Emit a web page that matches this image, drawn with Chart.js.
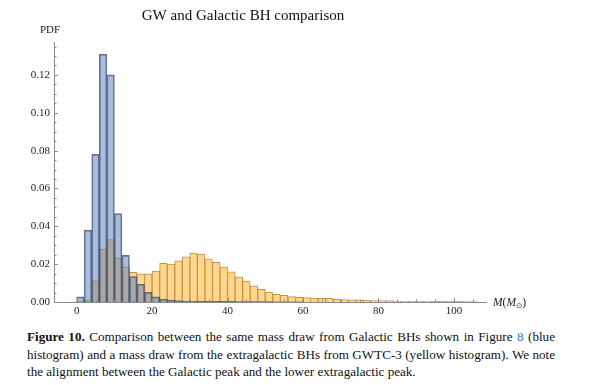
<!DOCTYPE html>
<html>
<head>
<meta charset="utf-8">
<script src="https://cdn.jsdelivr.net/npm/chart.js@4.4.1/dist/chart.umd.min.js"></script>
<style>
    body { margin: 0; background: #fff; }
    #wrap { position: relative; width: 591px; height: 325px; }
    #caption {
        position: absolute; left: 27px; top: 328px; width: 528px;
        font-family: "Liberation Serif", serif; font-size: 13.1px;
        line-height: 17.5px; color: #111; white-space: nowrap;
    }
    #caption .just { text-align: justify; text-align-last: justify; white-space: normal; }
    #caption .ref { color: #3a78c4; }
</style>
</head>
<body>
<div id="wrap"><canvas id="chart"></canvas></div>
<div id="caption">
    <div class="just"><b>Figure 10.</b> Comparison between the same mass draw from Galactic BHs shown in Figure <span class="ref">8</span> (blue</div>
    <div class="just">histogram) and a mass draw from the extragalactic BHs from GWTC-3 (yellow histogram). We note</div>
    <div>the alignment between the Galactic peak and the lower extragalactic peak.</div>
</div>

<script>
// bin centres (2 M_sun wide bins)
const binCenters = [1, 3, 5, 7, 9, 11, 13, 15, 17, 19, 21, 23, 25, 27, 29, 31, 33, 35, 37, 39,
    41, 43, 45, 47, 49, 51, 53, 55, 57, 59, 61, 63, 65, 67, 69, 71, 73, 75, 77, 79,
    81, 83, 85, 87, 89, 91, 93, 95, 97, 99, 101, 103, 105];

// Galactic BH mass draw (blue)
const galacticPdf = [0.0027, 0.038, 0.078, 0.131, 0.120, 0.0467, 0.0246, 0.0134, 0.0094, 0.0051,
    0.0027, 0.0015, 0.0010, 0.0007, 0.0005, 0.0005, 0.0004, 0.0004, 0.0003, 0.0003,
    0.0003, 0.0002, 0.0002, 0.0002, 0.0002, 0.0002, 0.0001, 0.0001, 0.0001, 0.0001];

// GWTC-3 extragalactic mass draw (yellow)
const gwPdf = [0.0003, 0.0010, 0.0113, 0.028, 0.033, 0.0233, 0.0186, 0.0157, 0.0149, 0.0149,
    0.0164, 0.0205, 0.0200, 0.0217, 0.0239, 0.0258, 0.0253, 0.0228, 0.0210, 0.0184,
    0.0159, 0.0133, 0.0110, 0.0085, 0.0067, 0.0053, 0.0041, 0.0035, 0.0028, 0.0025,
    0.0023, 0.0021, 0.0020, 0.0019, 0.0014, 0.0013, 0.0011, 0.0011, 0.0009, 0.0008,
    0.0007, 0.0007, 0.0005, 0.0005, 0.0004, 0.0004, 0.0004, 0.0003, 0.0003, 0.0003,
    0.0003, 0.0002, 0.0002];

const xTicks = [0, 20, 40, 60, 80, 100];
const yTicks = [0, 0.02, 0.04, 0.06, 0.08, 0.10, 0.12];

const serif = '"Liberation Serif", "DejaVu Serif", serif';

// Mathematica-style inward ticks plus axis labels
const axesDecor = {
    id: 'axesDecor',
    afterDraw(chart) {
        const ctx = chart.ctx;
        const x = chart.scales.x, y = chart.scales.y;
        const area = chart.chartArea;
        ctx.save();
        ctx.strokeStyle = '#8a8a8a';
        ctx.lineWidth = 1;
        ctx.beginPath();
        for (let v = 0; v <= x.max; v += 5) {
            const px = Math.round(x.getPixelForValue(v)) + 0.5;
            const len = xTicks.includes(v) ? 4 : 2.5;
            ctx.moveTo(px, area.bottom);
            ctx.lineTo(px, area.bottom - len);
        }
        for (let i = 0; i * 0.005 <= y.max; i++) {
            const v = i * 0.005;
            const py = Math.round(y.getPixelForValue(v)) + 0.5;
            const len = i % 4 === 0 ? 4 : 2.5;
            ctx.moveTo(area.left, py);
            ctx.lineTo(area.left + len, py);
        }
        ctx.stroke();

        ctx.fillStyle = '#222';
        ctx.font = '11px ' + serif;
        ctx.textAlign = 'center';
        ctx.textBaseline = 'middle';
        ctx.fillText('PDF', area.left - 4, 30);

        ctx.textAlign = 'left';
        ctx.textBaseline = 'alphabetic';
        let lx = area.right + 7;
        const by = area.bottom + 4;
        ctx.font = 'italic 11.5px ' + serif;
        ctx.fillText('M', lx, by); lx += ctx.measureText('M').width;
        ctx.font = '11.5px ' + serif;
        ctx.fillText('(', lx, by); lx += ctx.measureText('(').width;
        ctx.font = 'italic 11.5px ' + serif;
        ctx.fillText('M', lx, by); lx += ctx.measureText('M').width;
        ctx.font = '7.5px "DejaVu Sans", sans-serif';
        ctx.fillText('\u2299', lx, by + 1.5); lx += ctx.measureText('\u2299').width;
        ctx.font = '11.5px ' + serif;
        ctx.fillText(')', lx, by);
        ctx.restore();
    }
};

function toPoints(values) {
    return values.map((v, i) => ({ x: binCenters[i], y: v }));
}

const ctx = document.getElementById('chart').getContext('2d');
new Chart(ctx, {
    type: 'bar',
    data: {
        datasets: [
            {
                label: 'Galactic',
                data: toPoints(galacticPdf),
                backgroundColor: 'rgba(85, 121, 185, 0.5)',
                borderColor: 'rgba(55, 70, 100, 0.75)',
                borderWidth: 1,
                order: 0
            },
            {
                label: 'GWTC-3',
                data: toPoints(gwPdf),
                backgroundColor: 'rgb(254, 214, 142)',
                borderColor: 'rgb(196, 146, 66)',
                borderWidth: 1,
                order: 1
            }
        ]
    },
    options: {
        responsive: true,
        maintainAspectRatio: false,
        animation: false,
        grouped: false,
        barPercentage: 1,
        categoryPercentage: 1,
        layout: { padding: { left: 0, right: 105, top: 0, bottom: 0 } },
        plugins: {
            legend: { display: false },
            tooltip: { enabled: false },
            title: {
                display: true,
                text: 'GW and Galactic BH comparison',
                color: '#111',
                font: { family: serif, size: 15, weight: 'normal', lineHeight: 1.2 },
                padding: { top: 7, bottom: 17 }
            }
        },
        scales: {
            x: {
                type: 'linear',
                offset: false,
                min: -6,
                max: 108.5,
                grid: { display: false, drawTicks: false },
                border: { display: true, color: '#8a8a8a', width: 1 },
                ticks: {
                    stepSize: 20,
                    includeBounds: false,
                    padding: 3,
                    color: '#222',
                    font: { family: serif, size: 11 }
                },
                afterFit(scale) { scale.height = 23; }
            },
            y: {
                min: 0,
                max: 0.1374,
                grid: { display: false, drawTicks: false },
                border: { display: true, color: '#8a8a8a', width: 1 },
                ticks: {
                    stepSize: 0.02,
                    includeBounds: false,
                    padding: 4,
                    color: '#222',
                    font: { family: serif, size: 11 },
                    callback: v => v.toFixed(2)
                },
                afterFit(scale) { scale.width = 54; }
            }
        }
    },
    plugins: [axesDecor]
});
</script>
</body>
</html>
